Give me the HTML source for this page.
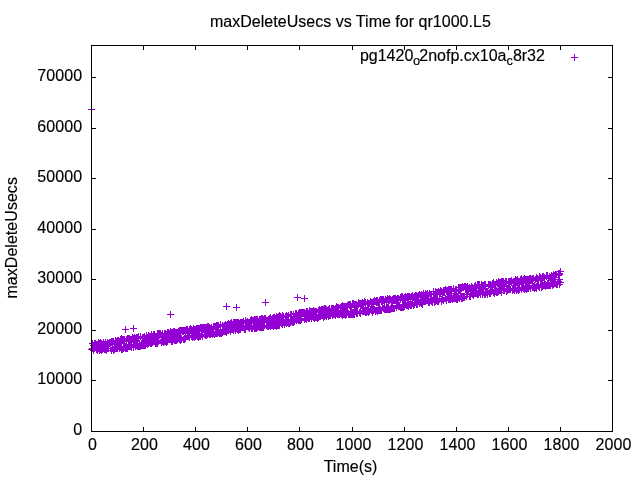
<!DOCTYPE html>
<html><head><meta charset="utf-8"><title>maxDeleteUsecs vs Time for qr1000.L5</title>
<style>
html,body{margin:0;padding:0;background:#fff;}
body{width:640px;height:480px;overflow:hidden;}
svg{display:block;will-change:transform;}
text{font-family:"Liberation Sans",sans-serif;font-size:16px;fill:#000;stroke:#000;stroke-width:0.15px;}
</style></head><body>
<svg width="640" height="480" viewBox="0 0 640 480">
<rect width="640" height="480" fill="#fff"/>
<text x="350.4" y="26.5" text-anchor="middle" letter-spacing="0.02">maxDeleteUsecs vs Time for qr1000.L5</text>
<text x="350.5" y="471.5" text-anchor="middle">Time(s)</text>
<text transform="translate(16.7,237.8) rotate(-90)" text-anchor="middle" letter-spacing="0.04">maxDeleteUsecs</text>
<text x="92.5" y="449.5" text-anchor="middle" letter-spacing="0.1">0</text><text x="144.5" y="449.5" text-anchor="middle" letter-spacing="0.1">200</text><text x="196.5" y="449.5" text-anchor="middle" letter-spacing="0.1">400</text><text x="248.5" y="449.5" text-anchor="middle" letter-spacing="0.1">600</text><text x="300.5" y="449.5" text-anchor="middle" letter-spacing="0.1">800</text><text x="353.5" y="449.5" text-anchor="middle" letter-spacing="0.1">1000</text><text x="405.5" y="449.5" text-anchor="middle" letter-spacing="0.1">1200</text><text x="457.5" y="449.5" text-anchor="middle" letter-spacing="0.1">1400</text><text x="509.5" y="449.5" text-anchor="middle" letter-spacing="0.1">1600</text><text x="561.5" y="449.5" text-anchor="middle" letter-spacing="0.1">1800</text><text x="613.5" y="449.5" text-anchor="middle" letter-spacing="0.1">2000</text>
<text x="82.3" y="435.2" text-anchor="end" letter-spacing="0.1">0</text><text x="82.3" y="384.2" text-anchor="end" letter-spacing="0.1">10000</text><text x="82.3" y="334.2" text-anchor="end" letter-spacing="0.1">20000</text><text x="82.3" y="283.2" text-anchor="end" letter-spacing="0.1">30000</text><text x="82.3" y="233.2" text-anchor="end" letter-spacing="0.1">40000</text><text x="82.3" y="182.2" text-anchor="end" letter-spacing="0.1">50000</text><text x="82.3" y="132.2" text-anchor="end" letter-spacing="0.1">60000</text><text x="82.3" y="81.2" text-anchor="end" letter-spacing="0.1">70000</text>
<text y="61"><tspan x="359.9">pg1420</tspan><tspan x="413.1" font-size="12.8px" dy="3.8">o</tspan><tspan x="419.3" dy="-3.8">2nofp.cx10a</tspan><tspan font-size="12.8px" dy="3.8">c</tspan><tspan dy="-3.8">8r32</tspan></text>
<path d="M571 57.5h7m-3.5-3.5v7" stroke="#9400d3" stroke-width="1" fill="none" shape-rendering="crispEdges"/>
<path d="M88 349.5h7m-3.5-3.5v7M89 343.5h7m-3.5-3.5v7M89 343.5h7m-3.5-3.5v7M89 348.5h7m-3.5-3.5v7M89 343.5h7m-3.5-3.5v7M90 345.5h7m-3.5-3.5v7M90 350.5h7m-3.5-3.5v7M90 349.5h7m-3.5-3.5v7M90 348.5h7m-3.5-3.5v7M91 343.5h7m-3.5-3.5v7M91 343.5h7m-3.5-3.5v7M91 348.5h7m-3.5-3.5v7M91 343.5h7m-3.5-3.5v7M92 343.5h7m-3.5-3.5v7M92 344.5h7m-3.5-3.5v7M92 344.5h7m-3.5-3.5v7M92 343.5h7m-3.5-3.5v7M93 349.5h7m-3.5-3.5v7M93 349.5h7m-3.5-3.5v7M93 347.5h7m-3.5-3.5v7M93 344.5h7m-3.5-3.5v7M94 344.5h7m-3.5-3.5v7M94 350.5h7m-3.5-3.5v7M94 349.5h7m-3.5-3.5v7M95 344.5h7m-3.5-3.5v7M95 343.5h7m-3.5-3.5v7M95 342.5h7m-3.5-3.5v7M95 348.5h7m-3.5-3.5v7M96 343.5h7m-3.5-3.5v7M96 350.5h7m-3.5-3.5v7M96 349.5h7m-3.5-3.5v7M96 344.5h7m-3.5-3.5v7M97 349.5h7m-3.5-3.5v7M97 342.5h7m-3.5-3.5v7M97 348.5h7m-3.5-3.5v7M97 343.5h7m-3.5-3.5v7M98 345.5h7m-3.5-3.5v7M98 344.5h7m-3.5-3.5v7M98 343.5h7m-3.5-3.5v7M98 350.5h7m-3.5-3.5v7M99 344.5h7m-3.5-3.5v7M99 348.5h7m-3.5-3.5v7M99 348.5h7m-3.5-3.5v7M99 349.5h7m-3.5-3.5v7M100 348.5h7m-3.5-3.5v7M100 348.5h7m-3.5-3.5v7M100 342.5h7m-3.5-3.5v7M101 349.5h7m-3.5-3.5v7M101 344.5h7m-3.5-3.5v7M101 348.5h7m-3.5-3.5v7M101 348.5h7m-3.5-3.5v7M102 348.5h7m-3.5-3.5v7M102 342.5h7m-3.5-3.5v7M102 349.5h7m-3.5-3.5v7M102 343.5h7m-3.5-3.5v7M103 348.5h7m-3.5-3.5v7M103 344.5h7m-3.5-3.5v7M103 350.5h7m-3.5-3.5v7M103 344.5h7m-3.5-3.5v7M104 342.5h7m-3.5-3.5v7M104 348.5h7m-3.5-3.5v7M104 344.5h7m-3.5-3.5v7M104 344.5h7m-3.5-3.5v7M105 344.5h7m-3.5-3.5v7M105 348.5h7m-3.5-3.5v7M105 348.5h7m-3.5-3.5v7M105 343.5h7m-3.5-3.5v7M106 343.5h7m-3.5-3.5v7M106 343.5h7m-3.5-3.5v7M106 342.5h7m-3.5-3.5v7M106 342.5h7m-3.5-3.5v7M107 342.5h7m-3.5-3.5v7M107 343.5h7m-3.5-3.5v7M107 348.5h7m-3.5-3.5v7M108 341.5h7m-3.5-3.5v7M108 342.5h7m-3.5-3.5v7M108 341.5h7m-3.5-3.5v7M108 350.5h7m-3.5-3.5v7M109 343.5h7m-3.5-3.5v7M109 343.5h7m-3.5-3.5v7M109 348.5h7m-3.5-3.5v7M109 341.5h7m-3.5-3.5v7M110 350.5h7m-3.5-3.5v7M110 349.5h7m-3.5-3.5v7M110 350.5h7m-3.5-3.5v7M110 341.5h7m-3.5-3.5v7M111 344.5h7m-3.5-3.5v7M111 349.5h7m-3.5-3.5v7M111 349.5h7m-3.5-3.5v7M111 348.5h7m-3.5-3.5v7M112 340.5h7m-3.5-3.5v7M112 348.5h7m-3.5-3.5v7M112 341.5h7m-3.5-3.5v7M112 341.5h7m-3.5-3.5v7M113 341.5h7m-3.5-3.5v7M113 348.5h7m-3.5-3.5v7M113 341.5h7m-3.5-3.5v7M114 340.5h7m-3.5-3.5v7M114 342.5h7m-3.5-3.5v7M114 348.5h7m-3.5-3.5v7M114 347.5h7m-3.5-3.5v7M115 342.5h7m-3.5-3.5v7M115 341.5h7m-3.5-3.5v7M115 342.5h7m-3.5-3.5v7M115 340.5h7m-3.5-3.5v7M116 341.5h7m-3.5-3.5v7M116 348.5h7m-3.5-3.5v7M116 347.5h7m-3.5-3.5v7M116 348.5h7m-3.5-3.5v7M117 347.5h7m-3.5-3.5v7M117 339.5h7m-3.5-3.5v7M117 342.5h7m-3.5-3.5v7M117 346.5h7m-3.5-3.5v7M118 347.5h7m-3.5-3.5v7M118 341.5h7m-3.5-3.5v7M118 349.5h7m-3.5-3.5v7M118 338.5h7m-3.5-3.5v7M119 339.5h7m-3.5-3.5v7M119 340.5h7m-3.5-3.5v7M119 349.5h7m-3.5-3.5v7M120 339.5h7m-3.5-3.5v7M120 341.5h7m-3.5-3.5v7M120 348.5h7m-3.5-3.5v7M120 346.5h7m-3.5-3.5v7M121 347.5h7m-3.5-3.5v7M121 339.5h7m-3.5-3.5v7M121 347.5h7m-3.5-3.5v7M121 341.5h7m-3.5-3.5v7M122 346.5h7m-3.5-3.5v7M122 347.5h7m-3.5-3.5v7M122 348.5h7m-3.5-3.5v7M122 348.5h7m-3.5-3.5v7M123 340.5h7m-3.5-3.5v7M123 348.5h7m-3.5-3.5v7M123 339.5h7m-3.5-3.5v7M123 346.5h7m-3.5-3.5v7M124 338.5h7m-3.5-3.5v7M124 348.5h7m-3.5-3.5v7M124 338.5h7m-3.5-3.5v7M124 347.5h7m-3.5-3.5v7M125 346.5h7m-3.5-3.5v7M125 339.5h7m-3.5-3.5v7M125 338.5h7m-3.5-3.5v7M126 346.5h7m-3.5-3.5v7M126 338.5h7m-3.5-3.5v7M126 346.5h7m-3.5-3.5v7M126 345.5h7m-3.5-3.5v7M127 340.5h7m-3.5-3.5v7M127 339.5h7m-3.5-3.5v7M127 339.5h7m-3.5-3.5v7M127 346.5h7m-3.5-3.5v7M128 347.5h7m-3.5-3.5v7M128 347.5h7m-3.5-3.5v7M128 339.5h7m-3.5-3.5v7M128 346.5h7m-3.5-3.5v7M129 339.5h7m-3.5-3.5v7M129 339.5h7m-3.5-3.5v7M129 337.5h7m-3.5-3.5v7M129 338.5h7m-3.5-3.5v7M130 347.5h7m-3.5-3.5v7M130 338.5h7m-3.5-3.5v7M130 344.5h7m-3.5-3.5v7M130 338.5h7m-3.5-3.5v7M131 337.5h7m-3.5-3.5v7M131 344.5h7m-3.5-3.5v7M131 337.5h7m-3.5-3.5v7M132 338.5h7m-3.5-3.5v7M132 346.5h7m-3.5-3.5v7M132 338.5h7m-3.5-3.5v7M132 344.5h7m-3.5-3.5v7M133 345.5h7m-3.5-3.5v7M133 337.5h7m-3.5-3.5v7M133 338.5h7m-3.5-3.5v7M133 345.5h7m-3.5-3.5v7M134 344.5h7m-3.5-3.5v7M134 346.5h7m-3.5-3.5v7M134 345.5h7m-3.5-3.5v7M134 337.5h7m-3.5-3.5v7M135 346.5h7m-3.5-3.5v7M135 336.5h7m-3.5-3.5v7M135 336.5h7m-3.5-3.5v7M135 338.5h7m-3.5-3.5v7M136 346.5h7m-3.5-3.5v7M136 343.5h7m-3.5-3.5v7M136 344.5h7m-3.5-3.5v7M136 344.5h7m-3.5-3.5v7M137 345.5h7m-3.5-3.5v7M137 346.5h7m-3.5-3.5v7M137 336.5h7m-3.5-3.5v7M137 346.5h7m-3.5-3.5v7M138 344.5h7m-3.5-3.5v7M138 343.5h7m-3.5-3.5v7M138 345.5h7m-3.5-3.5v7M139 344.5h7m-3.5-3.5v7M139 345.5h7m-3.5-3.5v7M139 337.5h7m-3.5-3.5v7M139 337.5h7m-3.5-3.5v7M140 345.5h7m-3.5-3.5v7M140 337.5h7m-3.5-3.5v7M140 345.5h7m-3.5-3.5v7M140 343.5h7m-3.5-3.5v7M141 338.5h7m-3.5-3.5v7M141 336.5h7m-3.5-3.5v7M141 343.5h7m-3.5-3.5v7M141 345.5h7m-3.5-3.5v7M142 345.5h7m-3.5-3.5v7M142 342.5h7m-3.5-3.5v7M142 343.5h7m-3.5-3.5v7M142 343.5h7m-3.5-3.5v7M143 337.5h7m-3.5-3.5v7M143 343.5h7m-3.5-3.5v7M143 342.5h7m-3.5-3.5v7M143 335.5h7m-3.5-3.5v7M144 337.5h7m-3.5-3.5v7M144 342.5h7m-3.5-3.5v7M144 344.5h7m-3.5-3.5v7M145 335.5h7m-3.5-3.5v7M145 342.5h7m-3.5-3.5v7M145 343.5h7m-3.5-3.5v7M145 338.5h7m-3.5-3.5v7M146 337.5h7m-3.5-3.5v7M146 342.5h7m-3.5-3.5v7M146 336.5h7m-3.5-3.5v7M146 336.5h7m-3.5-3.5v7M147 343.5h7m-3.5-3.5v7M147 342.5h7m-3.5-3.5v7M147 336.5h7m-3.5-3.5v7M147 342.5h7m-3.5-3.5v7M148 334.5h7m-3.5-3.5v7M148 336.5h7m-3.5-3.5v7M148 343.5h7m-3.5-3.5v7M148 337.5h7m-3.5-3.5v7M149 336.5h7m-3.5-3.5v7M149 342.5h7m-3.5-3.5v7M149 336.5h7m-3.5-3.5v7M149 342.5h7m-3.5-3.5v7M150 341.5h7m-3.5-3.5v7M150 334.5h7m-3.5-3.5v7M150 337.5h7m-3.5-3.5v7M151 334.5h7m-3.5-3.5v7M151 335.5h7m-3.5-3.5v7M151 334.5h7m-3.5-3.5v7M151 341.5h7m-3.5-3.5v7M152 343.5h7m-3.5-3.5v7M152 341.5h7m-3.5-3.5v7M152 336.5h7m-3.5-3.5v7M152 341.5h7m-3.5-3.5v7M153 340.5h7m-3.5-3.5v7M153 343.5h7m-3.5-3.5v7M153 336.5h7m-3.5-3.5v7M153 341.5h7m-3.5-3.5v7M154 333.5h7m-3.5-3.5v7M154 341.5h7m-3.5-3.5v7M154 340.5h7m-3.5-3.5v7M154 343.5h7m-3.5-3.5v7M155 334.5h7m-3.5-3.5v7M155 335.5h7m-3.5-3.5v7M155 341.5h7m-3.5-3.5v7M155 333.5h7m-3.5-3.5v7M156 333.5h7m-3.5-3.5v7M156 335.5h7m-3.5-3.5v7M156 333.5h7m-3.5-3.5v7M157 333.5h7m-3.5-3.5v7M157 334.5h7m-3.5-3.5v7M157 334.5h7m-3.5-3.5v7M157 334.5h7m-3.5-3.5v7M158 342.5h7m-3.5-3.5v7M158 335.5h7m-3.5-3.5v7M158 335.5h7m-3.5-3.5v7M158 335.5h7m-3.5-3.5v7M159 341.5h7m-3.5-3.5v7M159 333.5h7m-3.5-3.5v7M159 335.5h7m-3.5-3.5v7M159 333.5h7m-3.5-3.5v7M160 342.5h7m-3.5-3.5v7M160 341.5h7m-3.5-3.5v7M160 339.5h7m-3.5-3.5v7M160 342.5h7m-3.5-3.5v7M161 333.5h7m-3.5-3.5v7M161 341.5h7m-3.5-3.5v7M161 340.5h7m-3.5-3.5v7M161 334.5h7m-3.5-3.5v7M162 334.5h7m-3.5-3.5v7M162 333.5h7m-3.5-3.5v7M162 341.5h7m-3.5-3.5v7M163 340.5h7m-3.5-3.5v7M163 334.5h7m-3.5-3.5v7M163 342.5h7m-3.5-3.5v7M163 341.5h7m-3.5-3.5v7M164 332.5h7m-3.5-3.5v7M164 334.5h7m-3.5-3.5v7M164 339.5h7m-3.5-3.5v7M164 341.5h7m-3.5-3.5v7M165 333.5h7m-3.5-3.5v7M165 339.5h7m-3.5-3.5v7M165 332.5h7m-3.5-3.5v7M165 332.5h7m-3.5-3.5v7M166 339.5h7m-3.5-3.5v7M166 333.5h7m-3.5-3.5v7M166 339.5h7m-3.5-3.5v7M166 339.5h7m-3.5-3.5v7M167 333.5h7m-3.5-3.5v7M167 339.5h7m-3.5-3.5v7M167 331.5h7m-3.5-3.5v7M167 332.5h7m-3.5-3.5v7M168 341.5h7m-3.5-3.5v7M168 332.5h7m-3.5-3.5v7M168 334.5h7m-3.5-3.5v7M168 340.5h7m-3.5-3.5v7M169 341.5h7m-3.5-3.5v7M169 332.5h7m-3.5-3.5v7M169 338.5h7m-3.5-3.5v7M170 336.5h7m-3.5-3.5v7M170 331.5h7m-3.5-3.5v7M170 339.5h7m-3.5-3.5v7M170 339.5h7m-3.5-3.5v7M171 339.5h7m-3.5-3.5v7M171 331.5h7m-3.5-3.5v7M171 333.5h7m-3.5-3.5v7M171 340.5h7m-3.5-3.5v7M172 332.5h7m-3.5-3.5v7M172 340.5h7m-3.5-3.5v7M172 340.5h7m-3.5-3.5v7M172 338.5h7m-3.5-3.5v7M173 332.5h7m-3.5-3.5v7M173 339.5h7m-3.5-3.5v7M173 339.5h7m-3.5-3.5v7M173 340.5h7m-3.5-3.5v7M174 332.5h7m-3.5-3.5v7M174 338.5h7m-3.5-3.5v7M174 339.5h7m-3.5-3.5v7M174 337.5h7m-3.5-3.5v7M175 338.5h7m-3.5-3.5v7M175 331.5h7m-3.5-3.5v7M175 337.5h7m-3.5-3.5v7M176 337.5h7m-3.5-3.5v7M176 330.5h7m-3.5-3.5v7M176 339.5h7m-3.5-3.5v7M176 330.5h7m-3.5-3.5v7M177 340.5h7m-3.5-3.5v7M177 333.5h7m-3.5-3.5v7M177 330.5h7m-3.5-3.5v7M177 339.5h7m-3.5-3.5v7M178 339.5h7m-3.5-3.5v7M178 338.5h7m-3.5-3.5v7M178 339.5h7m-3.5-3.5v7M178 330.5h7m-3.5-3.5v7M179 330.5h7m-3.5-3.5v7M179 330.5h7m-3.5-3.5v7M179 331.5h7m-3.5-3.5v7M179 331.5h7m-3.5-3.5v7M180 339.5h7m-3.5-3.5v7M180 331.5h7m-3.5-3.5v7M180 331.5h7m-3.5-3.5v7M180 330.5h7m-3.5-3.5v7M181 330.5h7m-3.5-3.5v7M181 339.5h7m-3.5-3.5v7M181 338.5h7m-3.5-3.5v7M182 338.5h7m-3.5-3.5v7M182 337.5h7m-3.5-3.5v7M182 332.5h7m-3.5-3.5v7M182 330.5h7m-3.5-3.5v7M183 329.5h7m-3.5-3.5v7M183 330.5h7m-3.5-3.5v7M183 329.5h7m-3.5-3.5v7M183 329.5h7m-3.5-3.5v7M184 332.5h7m-3.5-3.5v7M184 336.5h7m-3.5-3.5v7M184 329.5h7m-3.5-3.5v7M184 336.5h7m-3.5-3.5v7M185 336.5h7m-3.5-3.5v7M185 331.5h7m-3.5-3.5v7M185 336.5h7m-3.5-3.5v7M185 335.5h7m-3.5-3.5v7M186 337.5h7m-3.5-3.5v7M186 331.5h7m-3.5-3.5v7M186 329.5h7m-3.5-3.5v7M186 336.5h7m-3.5-3.5v7M187 328.5h7m-3.5-3.5v7M187 329.5h7m-3.5-3.5v7M187 330.5h7m-3.5-3.5v7M188 329.5h7m-3.5-3.5v7M188 335.5h7m-3.5-3.5v7M188 330.5h7m-3.5-3.5v7M188 336.5h7m-3.5-3.5v7M189 337.5h7m-3.5-3.5v7M189 335.5h7m-3.5-3.5v7M189 336.5h7m-3.5-3.5v7M189 330.5h7m-3.5-3.5v7M190 336.5h7m-3.5-3.5v7M190 329.5h7m-3.5-3.5v7M190 331.5h7m-3.5-3.5v7M190 328.5h7m-3.5-3.5v7M191 337.5h7m-3.5-3.5v7M191 329.5h7m-3.5-3.5v7M191 335.5h7m-3.5-3.5v7M191 330.5h7m-3.5-3.5v7M192 329.5h7m-3.5-3.5v7M192 330.5h7m-3.5-3.5v7M192 329.5h7m-3.5-3.5v7M192 336.5h7m-3.5-3.5v7M193 328.5h7m-3.5-3.5v7M193 329.5h7m-3.5-3.5v7M193 335.5h7m-3.5-3.5v7M194 328.5h7m-3.5-3.5v7M194 329.5h7m-3.5-3.5v7M194 336.5h7m-3.5-3.5v7M194 330.5h7m-3.5-3.5v7M195 337.5h7m-3.5-3.5v7M195 328.5h7m-3.5-3.5v7M195 334.5h7m-3.5-3.5v7M195 329.5h7m-3.5-3.5v7M196 328.5h7m-3.5-3.5v7M196 336.5h7m-3.5-3.5v7M196 335.5h7m-3.5-3.5v7M196 330.5h7m-3.5-3.5v7M197 328.5h7m-3.5-3.5v7M197 328.5h7m-3.5-3.5v7M197 327.5h7m-3.5-3.5v7M197 336.5h7m-3.5-3.5v7M198 328.5h7m-3.5-3.5v7M198 327.5h7m-3.5-3.5v7M198 334.5h7m-3.5-3.5v7M198 330.5h7m-3.5-3.5v7M199 331.5h7m-3.5-3.5v7M199 327.5h7m-3.5-3.5v7M199 336.5h7m-3.5-3.5v7M199 327.5h7m-3.5-3.5v7M200 328.5h7m-3.5-3.5v7M200 327.5h7m-3.5-3.5v7M200 329.5h7m-3.5-3.5v7M201 334.5h7m-3.5-3.5v7M201 327.5h7m-3.5-3.5v7M201 334.5h7m-3.5-3.5v7M201 328.5h7m-3.5-3.5v7M202 327.5h7m-3.5-3.5v7M202 328.5h7m-3.5-3.5v7M202 327.5h7m-3.5-3.5v7M202 335.5h7m-3.5-3.5v7M203 327.5h7m-3.5-3.5v7M203 328.5h7m-3.5-3.5v7M203 335.5h7m-3.5-3.5v7M203 334.5h7m-3.5-3.5v7M204 326.5h7m-3.5-3.5v7M204 334.5h7m-3.5-3.5v7M204 334.5h7m-3.5-3.5v7M204 328.5h7m-3.5-3.5v7M205 326.5h7m-3.5-3.5v7M205 328.5h7m-3.5-3.5v7M205 333.5h7m-3.5-3.5v7M205 333.5h7m-3.5-3.5v7M206 334.5h7m-3.5-3.5v7M206 327.5h7m-3.5-3.5v7M206 333.5h7m-3.5-3.5v7M207 334.5h7m-3.5-3.5v7M207 334.5h7m-3.5-3.5v7M207 333.5h7m-3.5-3.5v7M207 328.5h7m-3.5-3.5v7M208 327.5h7m-3.5-3.5v7M208 333.5h7m-3.5-3.5v7M208 333.5h7m-3.5-3.5v7M208 327.5h7m-3.5-3.5v7M209 333.5h7m-3.5-3.5v7M209 334.5h7m-3.5-3.5v7M209 334.5h7m-3.5-3.5v7M209 333.5h7m-3.5-3.5v7M210 333.5h7m-3.5-3.5v7M210 328.5h7m-3.5-3.5v7M210 333.5h7m-3.5-3.5v7M210 326.5h7m-3.5-3.5v7M211 326.5h7m-3.5-3.5v7M211 326.5h7m-3.5-3.5v7M211 334.5h7m-3.5-3.5v7M211 326.5h7m-3.5-3.5v7M212 333.5h7m-3.5-3.5v7M212 329.5h7m-3.5-3.5v7M212 326.5h7m-3.5-3.5v7M213 333.5h7m-3.5-3.5v7M213 325.5h7m-3.5-3.5v7M213 332.5h7m-3.5-3.5v7M213 327.5h7m-3.5-3.5v7M214 333.5h7m-3.5-3.5v7M214 325.5h7m-3.5-3.5v7M214 327.5h7m-3.5-3.5v7M214 332.5h7m-3.5-3.5v7M215 325.5h7m-3.5-3.5v7M215 332.5h7m-3.5-3.5v7M215 331.5h7m-3.5-3.5v7M215 331.5h7m-3.5-3.5v7M216 332.5h7m-3.5-3.5v7M216 332.5h7m-3.5-3.5v7M216 333.5h7m-3.5-3.5v7M216 333.5h7m-3.5-3.5v7M217 324.5h7m-3.5-3.5v7M217 324.5h7m-3.5-3.5v7M217 333.5h7m-3.5-3.5v7M217 331.5h7m-3.5-3.5v7M218 332.5h7m-3.5-3.5v7M218 333.5h7m-3.5-3.5v7M218 333.5h7m-3.5-3.5v7M219 326.5h7m-3.5-3.5v7M219 326.5h7m-3.5-3.5v7M219 325.5h7m-3.5-3.5v7M219 332.5h7m-3.5-3.5v7M220 331.5h7m-3.5-3.5v7M220 330.5h7m-3.5-3.5v7M220 331.5h7m-3.5-3.5v7M220 326.5h7m-3.5-3.5v7M221 331.5h7m-3.5-3.5v7M221 325.5h7m-3.5-3.5v7M221 331.5h7m-3.5-3.5v7M221 331.5h7m-3.5-3.5v7M222 331.5h7m-3.5-3.5v7M222 324.5h7m-3.5-3.5v7M222 324.5h7m-3.5-3.5v7M222 331.5h7m-3.5-3.5v7M223 332.5h7m-3.5-3.5v7M223 331.5h7m-3.5-3.5v7M223 330.5h7m-3.5-3.5v7M223 325.5h7m-3.5-3.5v7M224 324.5h7m-3.5-3.5v7M224 330.5h7m-3.5-3.5v7M224 325.5h7m-3.5-3.5v7M225 330.5h7m-3.5-3.5v7M225 325.5h7m-3.5-3.5v7M225 329.5h7m-3.5-3.5v7M225 323.5h7m-3.5-3.5v7M226 329.5h7m-3.5-3.5v7M226 324.5h7m-3.5-3.5v7M226 324.5h7m-3.5-3.5v7M226 324.5h7m-3.5-3.5v7M227 323.5h7m-3.5-3.5v7M227 331.5h7m-3.5-3.5v7M227 329.5h7m-3.5-3.5v7M227 324.5h7m-3.5-3.5v7M228 324.5h7m-3.5-3.5v7M228 329.5h7m-3.5-3.5v7M228 329.5h7m-3.5-3.5v7M228 322.5h7m-3.5-3.5v7M229 329.5h7m-3.5-3.5v7M229 324.5h7m-3.5-3.5v7M229 329.5h7m-3.5-3.5v7M229 325.5h7m-3.5-3.5v7M230 328.5h7m-3.5-3.5v7M230 328.5h7m-3.5-3.5v7M230 322.5h7m-3.5-3.5v7M230 330.5h7m-3.5-3.5v7M231 322.5h7m-3.5-3.5v7M231 328.5h7m-3.5-3.5v7M231 322.5h7m-3.5-3.5v7M232 324.5h7m-3.5-3.5v7M232 322.5h7m-3.5-3.5v7M232 323.5h7m-3.5-3.5v7M232 330.5h7m-3.5-3.5v7M233 328.5h7m-3.5-3.5v7M233 322.5h7m-3.5-3.5v7M233 322.5h7m-3.5-3.5v7M233 328.5h7m-3.5-3.5v7M234 322.5h7m-3.5-3.5v7M234 329.5h7m-3.5-3.5v7M234 323.5h7m-3.5-3.5v7M234 329.5h7m-3.5-3.5v7M235 323.5h7m-3.5-3.5v7M235 330.5h7m-3.5-3.5v7M235 322.5h7m-3.5-3.5v7M235 323.5h7m-3.5-3.5v7M236 328.5h7m-3.5-3.5v7M236 329.5h7m-3.5-3.5v7M236 323.5h7m-3.5-3.5v7M236 327.5h7m-3.5-3.5v7M237 323.5h7m-3.5-3.5v7M237 329.5h7m-3.5-3.5v7M237 322.5h7m-3.5-3.5v7M238 323.5h7m-3.5-3.5v7M238 322.5h7m-3.5-3.5v7M238 323.5h7m-3.5-3.5v7M238 323.5h7m-3.5-3.5v7M239 322.5h7m-3.5-3.5v7M239 327.5h7m-3.5-3.5v7M239 322.5h7m-3.5-3.5v7M239 322.5h7m-3.5-3.5v7M240 323.5h7m-3.5-3.5v7M240 322.5h7m-3.5-3.5v7M240 327.5h7m-3.5-3.5v7M240 321.5h7m-3.5-3.5v7M241 328.5h7m-3.5-3.5v7M241 329.5h7m-3.5-3.5v7M241 328.5h7m-3.5-3.5v7M241 328.5h7m-3.5-3.5v7M242 320.5h7m-3.5-3.5v7M242 329.5h7m-3.5-3.5v7M242 328.5h7m-3.5-3.5v7M242 321.5h7m-3.5-3.5v7M243 322.5h7m-3.5-3.5v7M243 326.5h7m-3.5-3.5v7M243 326.5h7m-3.5-3.5v7M244 322.5h7m-3.5-3.5v7M244 322.5h7m-3.5-3.5v7M244 321.5h7m-3.5-3.5v7M244 321.5h7m-3.5-3.5v7M245 322.5h7m-3.5-3.5v7M245 327.5h7m-3.5-3.5v7M245 322.5h7m-3.5-3.5v7M245 327.5h7m-3.5-3.5v7M246 322.5h7m-3.5-3.5v7M246 328.5h7m-3.5-3.5v7M246 322.5h7m-3.5-3.5v7M246 328.5h7m-3.5-3.5v7M247 320.5h7m-3.5-3.5v7M247 320.5h7m-3.5-3.5v7M247 326.5h7m-3.5-3.5v7M247 326.5h7m-3.5-3.5v7M248 319.5h7m-3.5-3.5v7M248 326.5h7m-3.5-3.5v7M248 328.5h7m-3.5-3.5v7M248 320.5h7m-3.5-3.5v7M249 328.5h7m-3.5-3.5v7M249 320.5h7m-3.5-3.5v7M249 320.5h7m-3.5-3.5v7M250 326.5h7m-3.5-3.5v7M250 321.5h7m-3.5-3.5v7M250 320.5h7m-3.5-3.5v7M250 326.5h7m-3.5-3.5v7M251 326.5h7m-3.5-3.5v7M251 328.5h7m-3.5-3.5v7M251 319.5h7m-3.5-3.5v7M251 320.5h7m-3.5-3.5v7M252 326.5h7m-3.5-3.5v7M252 328.5h7m-3.5-3.5v7M252 319.5h7m-3.5-3.5v7M252 319.5h7m-3.5-3.5v7M253 328.5h7m-3.5-3.5v7M253 326.5h7m-3.5-3.5v7M253 325.5h7m-3.5-3.5v7M253 319.5h7m-3.5-3.5v7M254 319.5h7m-3.5-3.5v7M254 326.5h7m-3.5-3.5v7M254 319.5h7m-3.5-3.5v7M254 327.5h7m-3.5-3.5v7M255 326.5h7m-3.5-3.5v7M255 321.5h7m-3.5-3.5v7M255 325.5h7m-3.5-3.5v7M256 327.5h7m-3.5-3.5v7M256 319.5h7m-3.5-3.5v7M256 320.5h7m-3.5-3.5v7M256 327.5h7m-3.5-3.5v7M257 319.5h7m-3.5-3.5v7M257 319.5h7m-3.5-3.5v7M257 327.5h7m-3.5-3.5v7M257 323.5h7m-3.5-3.5v7M258 318.5h7m-3.5-3.5v7M258 320.5h7m-3.5-3.5v7M258 319.5h7m-3.5-3.5v7M258 327.5h7m-3.5-3.5v7M259 326.5h7m-3.5-3.5v7M259 318.5h7m-3.5-3.5v7M259 325.5h7m-3.5-3.5v7M259 327.5h7m-3.5-3.5v7M260 319.5h7m-3.5-3.5v7M260 325.5h7m-3.5-3.5v7M260 319.5h7m-3.5-3.5v7M260 327.5h7m-3.5-3.5v7M261 325.5h7m-3.5-3.5v7M261 318.5h7m-3.5-3.5v7M261 325.5h7m-3.5-3.5v7M261 318.5h7m-3.5-3.5v7M262 318.5h7m-3.5-3.5v7M262 319.5h7m-3.5-3.5v7M262 319.5h7m-3.5-3.5v7M263 320.5h7m-3.5-3.5v7M263 325.5h7m-3.5-3.5v7M263 320.5h7m-3.5-3.5v7M263 320.5h7m-3.5-3.5v7M264 320.5h7m-3.5-3.5v7M264 326.5h7m-3.5-3.5v7M264 326.5h7m-3.5-3.5v7M264 326.5h7m-3.5-3.5v7M265 319.5h7m-3.5-3.5v7M265 320.5h7m-3.5-3.5v7M265 320.5h7m-3.5-3.5v7M265 326.5h7m-3.5-3.5v7M266 318.5h7m-3.5-3.5v7M266 319.5h7m-3.5-3.5v7M266 318.5h7m-3.5-3.5v7M266 325.5h7m-3.5-3.5v7M267 326.5h7m-3.5-3.5v7M267 318.5h7m-3.5-3.5v7M267 317.5h7m-3.5-3.5v7M267 325.5h7m-3.5-3.5v7M268 325.5h7m-3.5-3.5v7M268 319.5h7m-3.5-3.5v7M268 319.5h7m-3.5-3.5v7M269 318.5h7m-3.5-3.5v7M269 318.5h7m-3.5-3.5v7M269 324.5h7m-3.5-3.5v7M269 325.5h7m-3.5-3.5v7M270 320.5h7m-3.5-3.5v7M270 325.5h7m-3.5-3.5v7M270 326.5h7m-3.5-3.5v7M270 317.5h7m-3.5-3.5v7M271 318.5h7m-3.5-3.5v7M271 325.5h7m-3.5-3.5v7M271 324.5h7m-3.5-3.5v7M271 317.5h7m-3.5-3.5v7M272 325.5h7m-3.5-3.5v7M272 318.5h7m-3.5-3.5v7M272 318.5h7m-3.5-3.5v7M272 325.5h7m-3.5-3.5v7M273 316.5h7m-3.5-3.5v7M273 325.5h7m-3.5-3.5v7M273 326.5h7m-3.5-3.5v7M273 325.5h7m-3.5-3.5v7M274 317.5h7m-3.5-3.5v7M274 325.5h7m-3.5-3.5v7M274 324.5h7m-3.5-3.5v7M275 325.5h7m-3.5-3.5v7M275 324.5h7m-3.5-3.5v7M275 323.5h7m-3.5-3.5v7M275 316.5h7m-3.5-3.5v7M276 325.5h7m-3.5-3.5v7M276 316.5h7m-3.5-3.5v7M276 315.5h7m-3.5-3.5v7M276 321.5h7m-3.5-3.5v7M277 317.5h7m-3.5-3.5v7M277 317.5h7m-3.5-3.5v7M277 316.5h7m-3.5-3.5v7M277 316.5h7m-3.5-3.5v7M278 317.5h7m-3.5-3.5v7M278 323.5h7m-3.5-3.5v7M278 317.5h7m-3.5-3.5v7M278 323.5h7m-3.5-3.5v7M279 316.5h7m-3.5-3.5v7M279 315.5h7m-3.5-3.5v7M279 317.5h7m-3.5-3.5v7M279 324.5h7m-3.5-3.5v7M280 317.5h7m-3.5-3.5v7M280 322.5h7m-3.5-3.5v7M280 316.5h7m-3.5-3.5v7M281 323.5h7m-3.5-3.5v7M281 324.5h7m-3.5-3.5v7M281 322.5h7m-3.5-3.5v7M281 323.5h7m-3.5-3.5v7M282 317.5h7m-3.5-3.5v7M282 316.5h7m-3.5-3.5v7M282 322.5h7m-3.5-3.5v7M282 316.5h7m-3.5-3.5v7M283 315.5h7m-3.5-3.5v7M283 323.5h7m-3.5-3.5v7M283 321.5h7m-3.5-3.5v7M283 316.5h7m-3.5-3.5v7M284 321.5h7m-3.5-3.5v7M284 322.5h7m-3.5-3.5v7M284 321.5h7m-3.5-3.5v7M284 316.5h7m-3.5-3.5v7M285 321.5h7m-3.5-3.5v7M285 315.5h7m-3.5-3.5v7M285 322.5h7m-3.5-3.5v7M285 323.5h7m-3.5-3.5v7M286 323.5h7m-3.5-3.5v7M286 322.5h7m-3.5-3.5v7M286 323.5h7m-3.5-3.5v7M287 322.5h7m-3.5-3.5v7M287 322.5h7m-3.5-3.5v7M287 314.5h7m-3.5-3.5v7M287 320.5h7m-3.5-3.5v7M288 321.5h7m-3.5-3.5v7M288 314.5h7m-3.5-3.5v7M288 320.5h7m-3.5-3.5v7M288 320.5h7m-3.5-3.5v7M289 320.5h7m-3.5-3.5v7M289 319.5h7m-3.5-3.5v7M289 321.5h7m-3.5-3.5v7M289 322.5h7m-3.5-3.5v7M290 321.5h7m-3.5-3.5v7M290 320.5h7m-3.5-3.5v7M290 322.5h7m-3.5-3.5v7M290 314.5h7m-3.5-3.5v7M291 319.5h7m-3.5-3.5v7M291 321.5h7m-3.5-3.5v7M291 320.5h7m-3.5-3.5v7M291 321.5h7m-3.5-3.5v7M292 314.5h7m-3.5-3.5v7M292 314.5h7m-3.5-3.5v7M292 313.5h7m-3.5-3.5v7M292 319.5h7m-3.5-3.5v7M293 320.5h7m-3.5-3.5v7M293 313.5h7m-3.5-3.5v7M293 319.5h7m-3.5-3.5v7M294 319.5h7m-3.5-3.5v7M294 319.5h7m-3.5-3.5v7M294 315.5h7m-3.5-3.5v7M294 319.5h7m-3.5-3.5v7M295 318.5h7m-3.5-3.5v7M295 319.5h7m-3.5-3.5v7M295 313.5h7m-3.5-3.5v7M295 320.5h7m-3.5-3.5v7M296 320.5h7m-3.5-3.5v7M296 312.5h7m-3.5-3.5v7M296 313.5h7m-3.5-3.5v7M296 319.5h7m-3.5-3.5v7M297 315.5h7m-3.5-3.5v7M297 320.5h7m-3.5-3.5v7M297 312.5h7m-3.5-3.5v7M297 313.5h7m-3.5-3.5v7M298 319.5h7m-3.5-3.5v7M298 318.5h7m-3.5-3.5v7M298 312.5h7m-3.5-3.5v7M298 319.5h7m-3.5-3.5v7M299 313.5h7m-3.5-3.5v7M299 313.5h7m-3.5-3.5v7M299 312.5h7m-3.5-3.5v7M300 313.5h7m-3.5-3.5v7M300 313.5h7m-3.5-3.5v7M300 313.5h7m-3.5-3.5v7M300 312.5h7m-3.5-3.5v7M301 312.5h7m-3.5-3.5v7M301 319.5h7m-3.5-3.5v7M301 318.5h7m-3.5-3.5v7M301 313.5h7m-3.5-3.5v7M302 318.5h7m-3.5-3.5v7M302 318.5h7m-3.5-3.5v7M302 313.5h7m-3.5-3.5v7M302 318.5h7m-3.5-3.5v7M303 312.5h7m-3.5-3.5v7M303 311.5h7m-3.5-3.5v7M303 319.5h7m-3.5-3.5v7M303 311.5h7m-3.5-3.5v7M304 312.5h7m-3.5-3.5v7M304 311.5h7m-3.5-3.5v7M304 317.5h7m-3.5-3.5v7M304 317.5h7m-3.5-3.5v7M305 317.5h7m-3.5-3.5v7M305 318.5h7m-3.5-3.5v7M305 317.5h7m-3.5-3.5v7M306 311.5h7m-3.5-3.5v7M306 312.5h7m-3.5-3.5v7M306 318.5h7m-3.5-3.5v7M306 310.5h7m-3.5-3.5v7M307 312.5h7m-3.5-3.5v7M307 311.5h7m-3.5-3.5v7M307 316.5h7m-3.5-3.5v7M307 311.5h7m-3.5-3.5v7M308 312.5h7m-3.5-3.5v7M308 318.5h7m-3.5-3.5v7M308 311.5h7m-3.5-3.5v7M308 311.5h7m-3.5-3.5v7M309 311.5h7m-3.5-3.5v7M309 316.5h7m-3.5-3.5v7M309 312.5h7m-3.5-3.5v7M309 312.5h7m-3.5-3.5v7M310 316.5h7m-3.5-3.5v7M310 310.5h7m-3.5-3.5v7M310 317.5h7m-3.5-3.5v7M310 316.5h7m-3.5-3.5v7M311 318.5h7m-3.5-3.5v7M311 317.5h7m-3.5-3.5v7M311 311.5h7m-3.5-3.5v7M312 311.5h7m-3.5-3.5v7M312 317.5h7m-3.5-3.5v7M312 312.5h7m-3.5-3.5v7M312 317.5h7m-3.5-3.5v7M313 316.5h7m-3.5-3.5v7M313 317.5h7m-3.5-3.5v7M313 312.5h7m-3.5-3.5v7M313 311.5h7m-3.5-3.5v7M314 317.5h7m-3.5-3.5v7M314 317.5h7m-3.5-3.5v7M314 317.5h7m-3.5-3.5v7M314 318.5h7m-3.5-3.5v7M315 311.5h7m-3.5-3.5v7M315 315.5h7m-3.5-3.5v7M315 317.5h7m-3.5-3.5v7M315 310.5h7m-3.5-3.5v7M316 316.5h7m-3.5-3.5v7M316 309.5h7m-3.5-3.5v7M316 315.5h7m-3.5-3.5v7M316 316.5h7m-3.5-3.5v7M317 316.5h7m-3.5-3.5v7M317 310.5h7m-3.5-3.5v7M317 315.5h7m-3.5-3.5v7M318 310.5h7m-3.5-3.5v7M318 309.5h7m-3.5-3.5v7M318 309.5h7m-3.5-3.5v7M318 315.5h7m-3.5-3.5v7M319 310.5h7m-3.5-3.5v7M319 309.5h7m-3.5-3.5v7M319 315.5h7m-3.5-3.5v7M319 315.5h7m-3.5-3.5v7M320 317.5h7m-3.5-3.5v7M320 310.5h7m-3.5-3.5v7M320 309.5h7m-3.5-3.5v7M320 316.5h7m-3.5-3.5v7M321 308.5h7m-3.5-3.5v7M321 311.5h7m-3.5-3.5v7M321 316.5h7m-3.5-3.5v7M321 310.5h7m-3.5-3.5v7M322 310.5h7m-3.5-3.5v7M322 315.5h7m-3.5-3.5v7M322 308.5h7m-3.5-3.5v7M322 309.5h7m-3.5-3.5v7M323 316.5h7m-3.5-3.5v7M323 309.5h7m-3.5-3.5v7M323 309.5h7m-3.5-3.5v7M323 310.5h7m-3.5-3.5v7M324 311.5h7m-3.5-3.5v7M324 310.5h7m-3.5-3.5v7M324 314.5h7m-3.5-3.5v7M325 309.5h7m-3.5-3.5v7M325 316.5h7m-3.5-3.5v7M325 309.5h7m-3.5-3.5v7M325 314.5h7m-3.5-3.5v7M326 308.5h7m-3.5-3.5v7M326 315.5h7m-3.5-3.5v7M326 315.5h7m-3.5-3.5v7M326 312.5h7m-3.5-3.5v7M327 315.5h7m-3.5-3.5v7M327 314.5h7m-3.5-3.5v7M327 314.5h7m-3.5-3.5v7M327 315.5h7m-3.5-3.5v7M328 310.5h7m-3.5-3.5v7M328 312.5h7m-3.5-3.5v7M328 309.5h7m-3.5-3.5v7M328 308.5h7m-3.5-3.5v7M329 309.5h7m-3.5-3.5v7M329 308.5h7m-3.5-3.5v7M329 308.5h7m-3.5-3.5v7M329 315.5h7m-3.5-3.5v7M330 314.5h7m-3.5-3.5v7M330 308.5h7m-3.5-3.5v7M330 314.5h7m-3.5-3.5v7M331 313.5h7m-3.5-3.5v7M331 314.5h7m-3.5-3.5v7M331 314.5h7m-3.5-3.5v7M331 314.5h7m-3.5-3.5v7M332 309.5h7m-3.5-3.5v7M332 308.5h7m-3.5-3.5v7M332 315.5h7m-3.5-3.5v7M332 315.5h7m-3.5-3.5v7M333 306.5h7m-3.5-3.5v7M333 307.5h7m-3.5-3.5v7M333 313.5h7m-3.5-3.5v7M333 307.5h7m-3.5-3.5v7M334 314.5h7m-3.5-3.5v7M334 307.5h7m-3.5-3.5v7M334 308.5h7m-3.5-3.5v7M334 308.5h7m-3.5-3.5v7M335 313.5h7m-3.5-3.5v7M335 308.5h7m-3.5-3.5v7M335 314.5h7m-3.5-3.5v7M335 307.5h7m-3.5-3.5v7M336 313.5h7m-3.5-3.5v7M336 314.5h7m-3.5-3.5v7M336 314.5h7m-3.5-3.5v7M337 313.5h7m-3.5-3.5v7M337 308.5h7m-3.5-3.5v7M337 307.5h7m-3.5-3.5v7M337 313.5h7m-3.5-3.5v7M338 306.5h7m-3.5-3.5v7M338 314.5h7m-3.5-3.5v7M338 307.5h7m-3.5-3.5v7M338 314.5h7m-3.5-3.5v7M339 307.5h7m-3.5-3.5v7M339 315.5h7m-3.5-3.5v7M339 313.5h7m-3.5-3.5v7M339 305.5h7m-3.5-3.5v7M340 310.5h7m-3.5-3.5v7M340 306.5h7m-3.5-3.5v7M340 314.5h7m-3.5-3.5v7M340 312.5h7m-3.5-3.5v7M341 306.5h7m-3.5-3.5v7M341 306.5h7m-3.5-3.5v7M341 314.5h7m-3.5-3.5v7M341 312.5h7m-3.5-3.5v7M342 315.5h7m-3.5-3.5v7M342 306.5h7m-3.5-3.5v7M342 313.5h7m-3.5-3.5v7M343 314.5h7m-3.5-3.5v7M343 306.5h7m-3.5-3.5v7M343 314.5h7m-3.5-3.5v7M343 307.5h7m-3.5-3.5v7M344 312.5h7m-3.5-3.5v7M344 312.5h7m-3.5-3.5v7M344 306.5h7m-3.5-3.5v7M344 305.5h7m-3.5-3.5v7M345 314.5h7m-3.5-3.5v7M345 314.5h7m-3.5-3.5v7M345 313.5h7m-3.5-3.5v7M345 304.5h7m-3.5-3.5v7M346 305.5h7m-3.5-3.5v7M346 304.5h7m-3.5-3.5v7M346 314.5h7m-3.5-3.5v7M346 314.5h7m-3.5-3.5v7M347 311.5h7m-3.5-3.5v7M347 304.5h7m-3.5-3.5v7M347 314.5h7m-3.5-3.5v7M347 313.5h7m-3.5-3.5v7M348 314.5h7m-3.5-3.5v7M348 307.5h7m-3.5-3.5v7M348 306.5h7m-3.5-3.5v7M349 303.5h7m-3.5-3.5v7M349 313.5h7m-3.5-3.5v7M349 314.5h7m-3.5-3.5v7M349 304.5h7m-3.5-3.5v7M350 312.5h7m-3.5-3.5v7M350 304.5h7m-3.5-3.5v7M350 303.5h7m-3.5-3.5v7M350 314.5h7m-3.5-3.5v7M351 314.5h7m-3.5-3.5v7M351 304.5h7m-3.5-3.5v7M351 311.5h7m-3.5-3.5v7M351 309.5h7m-3.5-3.5v7M352 304.5h7m-3.5-3.5v7M352 311.5h7m-3.5-3.5v7M352 305.5h7m-3.5-3.5v7M352 306.5h7m-3.5-3.5v7M353 312.5h7m-3.5-3.5v7M353 304.5h7m-3.5-3.5v7M353 311.5h7m-3.5-3.5v7M353 313.5h7m-3.5-3.5v7M354 313.5h7m-3.5-3.5v7M354 311.5h7m-3.5-3.5v7M354 305.5h7m-3.5-3.5v7M354 313.5h7m-3.5-3.5v7M355 304.5h7m-3.5-3.5v7M355 302.5h7m-3.5-3.5v7M355 304.5h7m-3.5-3.5v7M356 303.5h7m-3.5-3.5v7M356 303.5h7m-3.5-3.5v7M356 312.5h7m-3.5-3.5v7M356 303.5h7m-3.5-3.5v7M357 303.5h7m-3.5-3.5v7M357 313.5h7m-3.5-3.5v7M357 304.5h7m-3.5-3.5v7M357 311.5h7m-3.5-3.5v7M358 304.5h7m-3.5-3.5v7M358 303.5h7m-3.5-3.5v7M358 303.5h7m-3.5-3.5v7M358 305.5h7m-3.5-3.5v7M359 311.5h7m-3.5-3.5v7M359 302.5h7m-3.5-3.5v7M359 310.5h7m-3.5-3.5v7M359 303.5h7m-3.5-3.5v7M360 311.5h7m-3.5-3.5v7M360 303.5h7m-3.5-3.5v7M360 304.5h7m-3.5-3.5v7M360 303.5h7m-3.5-3.5v7M361 311.5h7m-3.5-3.5v7M361 310.5h7m-3.5-3.5v7M361 301.5h7m-3.5-3.5v7M362 302.5h7m-3.5-3.5v7M362 312.5h7m-3.5-3.5v7M362 304.5h7m-3.5-3.5v7M362 312.5h7m-3.5-3.5v7M363 310.5h7m-3.5-3.5v7M363 312.5h7m-3.5-3.5v7M363 312.5h7m-3.5-3.5v7M363 311.5h7m-3.5-3.5v7M364 302.5h7m-3.5-3.5v7M364 302.5h7m-3.5-3.5v7M364 309.5h7m-3.5-3.5v7M364 311.5h7m-3.5-3.5v7M365 303.5h7m-3.5-3.5v7M365 308.5h7m-3.5-3.5v7M365 312.5h7m-3.5-3.5v7M365 312.5h7m-3.5-3.5v7M366 311.5h7m-3.5-3.5v7M366 303.5h7m-3.5-3.5v7M366 311.5h7m-3.5-3.5v7M366 303.5h7m-3.5-3.5v7M367 309.5h7m-3.5-3.5v7M367 309.5h7m-3.5-3.5v7M367 301.5h7m-3.5-3.5v7M368 302.5h7m-3.5-3.5v7M368 302.5h7m-3.5-3.5v7M368 303.5h7m-3.5-3.5v7M368 310.5h7m-3.5-3.5v7M369 312.5h7m-3.5-3.5v7M369 310.5h7m-3.5-3.5v7M369 302.5h7m-3.5-3.5v7M369 309.5h7m-3.5-3.5v7M370 303.5h7m-3.5-3.5v7M370 309.5h7m-3.5-3.5v7M370 301.5h7m-3.5-3.5v7M370 310.5h7m-3.5-3.5v7M371 301.5h7m-3.5-3.5v7M371 300.5h7m-3.5-3.5v7M371 301.5h7m-3.5-3.5v7M371 309.5h7m-3.5-3.5v7M372 310.5h7m-3.5-3.5v7M372 301.5h7m-3.5-3.5v7M372 311.5h7m-3.5-3.5v7M372 310.5h7m-3.5-3.5v7M373 310.5h7m-3.5-3.5v7M373 300.5h7m-3.5-3.5v7M373 302.5h7m-3.5-3.5v7M374 302.5h7m-3.5-3.5v7M374 311.5h7m-3.5-3.5v7M374 300.5h7m-3.5-3.5v7M374 310.5h7m-3.5-3.5v7M375 310.5h7m-3.5-3.5v7M375 302.5h7m-3.5-3.5v7M375 310.5h7m-3.5-3.5v7M375 309.5h7m-3.5-3.5v7M376 309.5h7m-3.5-3.5v7M376 300.5h7m-3.5-3.5v7M376 310.5h7m-3.5-3.5v7M376 302.5h7m-3.5-3.5v7M377 309.5h7m-3.5-3.5v7M377 309.5h7m-3.5-3.5v7M377 310.5h7m-3.5-3.5v7M377 299.5h7m-3.5-3.5v7M378 310.5h7m-3.5-3.5v7M378 301.5h7m-3.5-3.5v7M378 310.5h7m-3.5-3.5v7M378 299.5h7m-3.5-3.5v7M379 301.5h7m-3.5-3.5v7M379 307.5h7m-3.5-3.5v7M379 302.5h7m-3.5-3.5v7M379 299.5h7m-3.5-3.5v7M380 300.5h7m-3.5-3.5v7M380 299.5h7m-3.5-3.5v7M380 308.5h7m-3.5-3.5v7M381 309.5h7m-3.5-3.5v7M381 308.5h7m-3.5-3.5v7M381 301.5h7m-3.5-3.5v7M381 307.5h7m-3.5-3.5v7M382 309.5h7m-3.5-3.5v7M382 299.5h7m-3.5-3.5v7M382 299.5h7m-3.5-3.5v7M382 299.5h7m-3.5-3.5v7M383 300.5h7m-3.5-3.5v7M383 309.5h7m-3.5-3.5v7M383 308.5h7m-3.5-3.5v7M383 307.5h7m-3.5-3.5v7M384 299.5h7m-3.5-3.5v7M384 307.5h7m-3.5-3.5v7M384 309.5h7m-3.5-3.5v7M384 298.5h7m-3.5-3.5v7M385 309.5h7m-3.5-3.5v7M385 299.5h7m-3.5-3.5v7M385 307.5h7m-3.5-3.5v7M385 302.5h7m-3.5-3.5v7M386 309.5h7m-3.5-3.5v7M386 298.5h7m-3.5-3.5v7M386 300.5h7m-3.5-3.5v7M387 308.5h7m-3.5-3.5v7M387 308.5h7m-3.5-3.5v7M387 299.5h7m-3.5-3.5v7M387 309.5h7m-3.5-3.5v7M388 308.5h7m-3.5-3.5v7M388 306.5h7m-3.5-3.5v7M388 300.5h7m-3.5-3.5v7M388 306.5h7m-3.5-3.5v7M389 307.5h7m-3.5-3.5v7M389 300.5h7m-3.5-3.5v7M389 308.5h7m-3.5-3.5v7M389 299.5h7m-3.5-3.5v7M390 300.5h7m-3.5-3.5v7M390 308.5h7m-3.5-3.5v7M390 308.5h7m-3.5-3.5v7M390 298.5h7m-3.5-3.5v7M391 300.5h7m-3.5-3.5v7M391 300.5h7m-3.5-3.5v7M391 308.5h7m-3.5-3.5v7M391 298.5h7m-3.5-3.5v7M392 300.5h7m-3.5-3.5v7M392 299.5h7m-3.5-3.5v7M392 298.5h7m-3.5-3.5v7M393 306.5h7m-3.5-3.5v7M393 299.5h7m-3.5-3.5v7M393 307.5h7m-3.5-3.5v7M393 300.5h7m-3.5-3.5v7M394 305.5h7m-3.5-3.5v7M394 298.5h7m-3.5-3.5v7M394 299.5h7m-3.5-3.5v7M394 302.5h7m-3.5-3.5v7M395 298.5h7m-3.5-3.5v7M395 306.5h7m-3.5-3.5v7M395 305.5h7m-3.5-3.5v7M395 298.5h7m-3.5-3.5v7M396 305.5h7m-3.5-3.5v7M396 306.5h7m-3.5-3.5v7M396 306.5h7m-3.5-3.5v7M396 305.5h7m-3.5-3.5v7M397 307.5h7m-3.5-3.5v7M397 307.5h7m-3.5-3.5v7M397 297.5h7m-3.5-3.5v7M397 298.5h7m-3.5-3.5v7M398 307.5h7m-3.5-3.5v7M398 296.5h7m-3.5-3.5v7M398 297.5h7m-3.5-3.5v7M399 305.5h7m-3.5-3.5v7M399 299.5h7m-3.5-3.5v7M399 307.5h7m-3.5-3.5v7M399 296.5h7m-3.5-3.5v7M400 307.5h7m-3.5-3.5v7M400 298.5h7m-3.5-3.5v7M400 298.5h7m-3.5-3.5v7M400 305.5h7m-3.5-3.5v7M401 306.5h7m-3.5-3.5v7M401 297.5h7m-3.5-3.5v7M401 298.5h7m-3.5-3.5v7M401 304.5h7m-3.5-3.5v7M402 298.5h7m-3.5-3.5v7M402 297.5h7m-3.5-3.5v7M402 300.5h7m-3.5-3.5v7M402 296.5h7m-3.5-3.5v7M403 305.5h7m-3.5-3.5v7M403 297.5h7m-3.5-3.5v7M403 297.5h7m-3.5-3.5v7M403 297.5h7m-3.5-3.5v7M404 305.5h7m-3.5-3.5v7M404 296.5h7m-3.5-3.5v7M404 298.5h7m-3.5-3.5v7M405 296.5h7m-3.5-3.5v7M405 304.5h7m-3.5-3.5v7M405 298.5h7m-3.5-3.5v7M405 306.5h7m-3.5-3.5v7M406 304.5h7m-3.5-3.5v7M406 304.5h7m-3.5-3.5v7M406 296.5h7m-3.5-3.5v7M406 296.5h7m-3.5-3.5v7M407 297.5h7m-3.5-3.5v7M407 305.5h7m-3.5-3.5v7M407 297.5h7m-3.5-3.5v7M407 304.5h7m-3.5-3.5v7M408 296.5h7m-3.5-3.5v7M408 305.5h7m-3.5-3.5v7M408 304.5h7m-3.5-3.5v7M408 305.5h7m-3.5-3.5v7M409 303.5h7m-3.5-3.5v7M409 297.5h7m-3.5-3.5v7M409 295.5h7m-3.5-3.5v7M409 297.5h7m-3.5-3.5v7M410 297.5h7m-3.5-3.5v7M410 297.5h7m-3.5-3.5v7M410 305.5h7m-3.5-3.5v7M410 305.5h7m-3.5-3.5v7M411 296.5h7m-3.5-3.5v7M411 303.5h7m-3.5-3.5v7M411 304.5h7m-3.5-3.5v7M412 296.5h7m-3.5-3.5v7M412 295.5h7m-3.5-3.5v7M412 297.5h7m-3.5-3.5v7M412 296.5h7m-3.5-3.5v7M413 297.5h7m-3.5-3.5v7M413 296.5h7m-3.5-3.5v7M413 304.5h7m-3.5-3.5v7M413 295.5h7m-3.5-3.5v7M414 296.5h7m-3.5-3.5v7M414 302.5h7m-3.5-3.5v7M414 297.5h7m-3.5-3.5v7M414 304.5h7m-3.5-3.5v7M415 295.5h7m-3.5-3.5v7M415 300.5h7m-3.5-3.5v7M415 301.5h7m-3.5-3.5v7M415 296.5h7m-3.5-3.5v7M416 303.5h7m-3.5-3.5v7M416 303.5h7m-3.5-3.5v7M416 303.5h7m-3.5-3.5v7M416 294.5h7m-3.5-3.5v7M417 295.5h7m-3.5-3.5v7M417 302.5h7m-3.5-3.5v7M417 299.5h7m-3.5-3.5v7M418 303.5h7m-3.5-3.5v7M418 294.5h7m-3.5-3.5v7M418 294.5h7m-3.5-3.5v7M418 296.5h7m-3.5-3.5v7M419 304.5h7m-3.5-3.5v7M419 301.5h7m-3.5-3.5v7M419 295.5h7m-3.5-3.5v7M419 301.5h7m-3.5-3.5v7M420 301.5h7m-3.5-3.5v7M420 294.5h7m-3.5-3.5v7M420 293.5h7m-3.5-3.5v7M420 295.5h7m-3.5-3.5v7M421 296.5h7m-3.5-3.5v7M421 295.5h7m-3.5-3.5v7M421 300.5h7m-3.5-3.5v7M421 295.5h7m-3.5-3.5v7M422 301.5h7m-3.5-3.5v7M422 293.5h7m-3.5-3.5v7M422 294.5h7m-3.5-3.5v7M422 295.5h7m-3.5-3.5v7M423 300.5h7m-3.5-3.5v7M423 294.5h7m-3.5-3.5v7M423 295.5h7m-3.5-3.5v7M424 293.5h7m-3.5-3.5v7M424 294.5h7m-3.5-3.5v7M424 300.5h7m-3.5-3.5v7M424 295.5h7m-3.5-3.5v7M425 302.5h7m-3.5-3.5v7M425 295.5h7m-3.5-3.5v7M425 300.5h7m-3.5-3.5v7M425 300.5h7m-3.5-3.5v7M426 293.5h7m-3.5-3.5v7M426 302.5h7m-3.5-3.5v7M426 301.5h7m-3.5-3.5v7M426 293.5h7m-3.5-3.5v7M427 300.5h7m-3.5-3.5v7M427 300.5h7m-3.5-3.5v7M427 300.5h7m-3.5-3.5v7M427 294.5h7m-3.5-3.5v7M428 300.5h7m-3.5-3.5v7M428 301.5h7m-3.5-3.5v7M428 294.5h7m-3.5-3.5v7M428 294.5h7m-3.5-3.5v7M429 302.5h7m-3.5-3.5v7M429 300.5h7m-3.5-3.5v7M429 300.5h7m-3.5-3.5v7M430 293.5h7m-3.5-3.5v7M430 299.5h7m-3.5-3.5v7M430 291.5h7m-3.5-3.5v7M430 294.5h7m-3.5-3.5v7M431 301.5h7m-3.5-3.5v7M431 294.5h7m-3.5-3.5v7M431 299.5h7m-3.5-3.5v7M431 302.5h7m-3.5-3.5v7M432 301.5h7m-3.5-3.5v7M432 291.5h7m-3.5-3.5v7M432 294.5h7m-3.5-3.5v7M432 300.5h7m-3.5-3.5v7M433 292.5h7m-3.5-3.5v7M433 293.5h7m-3.5-3.5v7M433 300.5h7m-3.5-3.5v7M433 299.5h7m-3.5-3.5v7M434 301.5h7m-3.5-3.5v7M434 299.5h7m-3.5-3.5v7M434 300.5h7m-3.5-3.5v7M434 292.5h7m-3.5-3.5v7M435 301.5h7m-3.5-3.5v7M435 291.5h7m-3.5-3.5v7M435 301.5h7m-3.5-3.5v7M436 293.5h7m-3.5-3.5v7M436 298.5h7m-3.5-3.5v7M436 292.5h7m-3.5-3.5v7M436 299.5h7m-3.5-3.5v7M437 293.5h7m-3.5-3.5v7M437 293.5h7m-3.5-3.5v7M437 290.5h7m-3.5-3.5v7M437 291.5h7m-3.5-3.5v7M438 301.5h7m-3.5-3.5v7M438 291.5h7m-3.5-3.5v7M438 299.5h7m-3.5-3.5v7M438 301.5h7m-3.5-3.5v7M439 292.5h7m-3.5-3.5v7M439 292.5h7m-3.5-3.5v7M439 299.5h7m-3.5-3.5v7M439 292.5h7m-3.5-3.5v7M440 290.5h7m-3.5-3.5v7M440 292.5h7m-3.5-3.5v7M440 290.5h7m-3.5-3.5v7M440 300.5h7m-3.5-3.5v7M441 292.5h7m-3.5-3.5v7M441 291.5h7m-3.5-3.5v7M441 290.5h7m-3.5-3.5v7M441 292.5h7m-3.5-3.5v7M442 298.5h7m-3.5-3.5v7M442 298.5h7m-3.5-3.5v7M442 289.5h7m-3.5-3.5v7M443 291.5h7m-3.5-3.5v7M443 290.5h7m-3.5-3.5v7M443 299.5h7m-3.5-3.5v7M443 300.5h7m-3.5-3.5v7M444 291.5h7m-3.5-3.5v7M444 290.5h7m-3.5-3.5v7M444 297.5h7m-3.5-3.5v7M444 297.5h7m-3.5-3.5v7M445 291.5h7m-3.5-3.5v7M445 289.5h7m-3.5-3.5v7M445 298.5h7m-3.5-3.5v7M445 299.5h7m-3.5-3.5v7M446 289.5h7m-3.5-3.5v7M446 299.5h7m-3.5-3.5v7M446 291.5h7m-3.5-3.5v7M446 297.5h7m-3.5-3.5v7M447 289.5h7m-3.5-3.5v7M447 290.5h7m-3.5-3.5v7M447 297.5h7m-3.5-3.5v7M447 299.5h7m-3.5-3.5v7M448 297.5h7m-3.5-3.5v7M448 298.5h7m-3.5-3.5v7M448 289.5h7m-3.5-3.5v7M449 299.5h7m-3.5-3.5v7M449 298.5h7m-3.5-3.5v7M449 299.5h7m-3.5-3.5v7M449 299.5h7m-3.5-3.5v7M450 297.5h7m-3.5-3.5v7M450 298.5h7m-3.5-3.5v7M450 288.5h7m-3.5-3.5v7M450 288.5h7m-3.5-3.5v7M451 293.5h7m-3.5-3.5v7M451 298.5h7m-3.5-3.5v7M451 297.5h7m-3.5-3.5v7M451 297.5h7m-3.5-3.5v7M452 297.5h7m-3.5-3.5v7M452 289.5h7m-3.5-3.5v7M452 298.5h7m-3.5-3.5v7M452 291.5h7m-3.5-3.5v7M453 299.5h7m-3.5-3.5v7M453 296.5h7m-3.5-3.5v7M453 296.5h7m-3.5-3.5v7M453 289.5h7m-3.5-3.5v7M454 297.5h7m-3.5-3.5v7M454 298.5h7m-3.5-3.5v7M454 299.5h7m-3.5-3.5v7M455 295.5h7m-3.5-3.5v7M455 287.5h7m-3.5-3.5v7M455 289.5h7m-3.5-3.5v7M455 297.5h7m-3.5-3.5v7M456 298.5h7m-3.5-3.5v7M456 290.5h7m-3.5-3.5v7M456 287.5h7m-3.5-3.5v7M456 290.5h7m-3.5-3.5v7M457 295.5h7m-3.5-3.5v7M457 295.5h7m-3.5-3.5v7M457 290.5h7m-3.5-3.5v7M457 287.5h7m-3.5-3.5v7M458 296.5h7m-3.5-3.5v7M458 288.5h7m-3.5-3.5v7M458 287.5h7m-3.5-3.5v7M458 298.5h7m-3.5-3.5v7M459 298.5h7m-3.5-3.5v7M459 296.5h7m-3.5-3.5v7M459 296.5h7m-3.5-3.5v7M459 286.5h7m-3.5-3.5v7M460 296.5h7m-3.5-3.5v7M460 287.5h7m-3.5-3.5v7M460 297.5h7m-3.5-3.5v7M461 296.5h7m-3.5-3.5v7M461 286.5h7m-3.5-3.5v7M461 296.5h7m-3.5-3.5v7M461 297.5h7m-3.5-3.5v7M462 289.5h7m-3.5-3.5v7M462 287.5h7m-3.5-3.5v7M462 286.5h7m-3.5-3.5v7M462 289.5h7m-3.5-3.5v7M463 289.5h7m-3.5-3.5v7M463 289.5h7m-3.5-3.5v7M463 287.5h7m-3.5-3.5v7M463 296.5h7m-3.5-3.5v7M464 289.5h7m-3.5-3.5v7M464 294.5h7m-3.5-3.5v7M464 286.5h7m-3.5-3.5v7M464 294.5h7m-3.5-3.5v7M465 288.5h7m-3.5-3.5v7M465 288.5h7m-3.5-3.5v7M465 288.5h7m-3.5-3.5v7M465 291.5h7m-3.5-3.5v7M466 287.5h7m-3.5-3.5v7M466 288.5h7m-3.5-3.5v7M466 296.5h7m-3.5-3.5v7M467 296.5h7m-3.5-3.5v7M467 296.5h7m-3.5-3.5v7M467 288.5h7m-3.5-3.5v7M467 294.5h7m-3.5-3.5v7M468 293.5h7m-3.5-3.5v7M468 293.5h7m-3.5-3.5v7M468 287.5h7m-3.5-3.5v7M468 286.5h7m-3.5-3.5v7M469 293.5h7m-3.5-3.5v7M469 294.5h7m-3.5-3.5v7M469 288.5h7m-3.5-3.5v7M469 287.5h7m-3.5-3.5v7M470 295.5h7m-3.5-3.5v7M470 295.5h7m-3.5-3.5v7M470 288.5h7m-3.5-3.5v7M470 293.5h7m-3.5-3.5v7M471 286.5h7m-3.5-3.5v7M471 293.5h7m-3.5-3.5v7M471 293.5h7m-3.5-3.5v7M471 288.5h7m-3.5-3.5v7M472 286.5h7m-3.5-3.5v7M472 285.5h7m-3.5-3.5v7M472 285.5h7m-3.5-3.5v7M472 293.5h7m-3.5-3.5v7M473 293.5h7m-3.5-3.5v7M473 287.5h7m-3.5-3.5v7M473 287.5h7m-3.5-3.5v7M474 293.5h7m-3.5-3.5v7M474 284.5h7m-3.5-3.5v7M474 285.5h7m-3.5-3.5v7M474 294.5h7m-3.5-3.5v7M475 294.5h7m-3.5-3.5v7M475 287.5h7m-3.5-3.5v7M475 292.5h7m-3.5-3.5v7M475 284.5h7m-3.5-3.5v7M476 284.5h7m-3.5-3.5v7M476 292.5h7m-3.5-3.5v7M476 286.5h7m-3.5-3.5v7M476 292.5h7m-3.5-3.5v7M477 294.5h7m-3.5-3.5v7M477 287.5h7m-3.5-3.5v7M477 293.5h7m-3.5-3.5v7M477 292.5h7m-3.5-3.5v7M478 286.5h7m-3.5-3.5v7M478 285.5h7m-3.5-3.5v7M478 284.5h7m-3.5-3.5v7M478 291.5h7m-3.5-3.5v7M479 294.5h7m-3.5-3.5v7M479 292.5h7m-3.5-3.5v7M479 285.5h7m-3.5-3.5v7M480 285.5h7m-3.5-3.5v7M480 291.5h7m-3.5-3.5v7M480 292.5h7m-3.5-3.5v7M480 292.5h7m-3.5-3.5v7M481 286.5h7m-3.5-3.5v7M481 294.5h7m-3.5-3.5v7M481 284.5h7m-3.5-3.5v7M481 284.5h7m-3.5-3.5v7M482 294.5h7m-3.5-3.5v7M482 292.5h7m-3.5-3.5v7M482 291.5h7m-3.5-3.5v7M482 284.5h7m-3.5-3.5v7M483 291.5h7m-3.5-3.5v7M483 292.5h7m-3.5-3.5v7M483 291.5h7m-3.5-3.5v7M483 292.5h7m-3.5-3.5v7M484 291.5h7m-3.5-3.5v7M484 292.5h7m-3.5-3.5v7M484 294.5h7m-3.5-3.5v7M484 293.5h7m-3.5-3.5v7M485 284.5h7m-3.5-3.5v7M485 284.5h7m-3.5-3.5v7M485 285.5h7m-3.5-3.5v7M486 293.5h7m-3.5-3.5v7M486 284.5h7m-3.5-3.5v7M486 292.5h7m-3.5-3.5v7M486 293.5h7m-3.5-3.5v7M487 293.5h7m-3.5-3.5v7M487 291.5h7m-3.5-3.5v7M487 284.5h7m-3.5-3.5v7M487 291.5h7m-3.5-3.5v7M488 285.5h7m-3.5-3.5v7M488 285.5h7m-3.5-3.5v7M488 291.5h7m-3.5-3.5v7M488 290.5h7m-3.5-3.5v7M489 283.5h7m-3.5-3.5v7M489 284.5h7m-3.5-3.5v7M489 285.5h7m-3.5-3.5v7M489 284.5h7m-3.5-3.5v7M490 292.5h7m-3.5-3.5v7M490 282.5h7m-3.5-3.5v7M490 292.5h7m-3.5-3.5v7M490 284.5h7m-3.5-3.5v7M491 293.5h7m-3.5-3.5v7M491 284.5h7m-3.5-3.5v7M491 291.5h7m-3.5-3.5v7M492 291.5h7m-3.5-3.5v7M492 284.5h7m-3.5-3.5v7M492 290.5h7m-3.5-3.5v7M492 289.5h7m-3.5-3.5v7M493 290.5h7m-3.5-3.5v7M493 282.5h7m-3.5-3.5v7M493 292.5h7m-3.5-3.5v7M493 291.5h7m-3.5-3.5v7M494 292.5h7m-3.5-3.5v7M494 292.5h7m-3.5-3.5v7M494 291.5h7m-3.5-3.5v7M494 283.5h7m-3.5-3.5v7M495 283.5h7m-3.5-3.5v7M495 290.5h7m-3.5-3.5v7M495 281.5h7m-3.5-3.5v7M495 291.5h7m-3.5-3.5v7M496 282.5h7m-3.5-3.5v7M496 284.5h7m-3.5-3.5v7M496 290.5h7m-3.5-3.5v7M496 282.5h7m-3.5-3.5v7M497 282.5h7m-3.5-3.5v7M497 284.5h7m-3.5-3.5v7M497 290.5h7m-3.5-3.5v7M498 290.5h7m-3.5-3.5v7M498 281.5h7m-3.5-3.5v7M498 282.5h7m-3.5-3.5v7M498 292.5h7m-3.5-3.5v7M499 283.5h7m-3.5-3.5v7M499 281.5h7m-3.5-3.5v7M499 286.5h7m-3.5-3.5v7M499 284.5h7m-3.5-3.5v7M500 282.5h7m-3.5-3.5v7M500 283.5h7m-3.5-3.5v7M500 281.5h7m-3.5-3.5v7M500 290.5h7m-3.5-3.5v7M501 288.5h7m-3.5-3.5v7M501 283.5h7m-3.5-3.5v7M501 290.5h7m-3.5-3.5v7M501 283.5h7m-3.5-3.5v7M502 282.5h7m-3.5-3.5v7M502 282.5h7m-3.5-3.5v7M502 283.5h7m-3.5-3.5v7M502 281.5h7m-3.5-3.5v7M503 291.5h7m-3.5-3.5v7M503 289.5h7m-3.5-3.5v7M503 281.5h7m-3.5-3.5v7M503 288.5h7m-3.5-3.5v7M504 290.5h7m-3.5-3.5v7M504 288.5h7m-3.5-3.5v7M504 289.5h7m-3.5-3.5v7M505 289.5h7m-3.5-3.5v7M505 281.5h7m-3.5-3.5v7M505 288.5h7m-3.5-3.5v7M505 288.5h7m-3.5-3.5v7M506 283.5h7m-3.5-3.5v7M506 289.5h7m-3.5-3.5v7M506 281.5h7m-3.5-3.5v7M506 281.5h7m-3.5-3.5v7M507 289.5h7m-3.5-3.5v7M507 289.5h7m-3.5-3.5v7M507 289.5h7m-3.5-3.5v7M507 281.5h7m-3.5-3.5v7M508 280.5h7m-3.5-3.5v7M508 282.5h7m-3.5-3.5v7M508 280.5h7m-3.5-3.5v7M508 280.5h7m-3.5-3.5v7M509 290.5h7m-3.5-3.5v7M509 288.5h7m-3.5-3.5v7M509 288.5h7m-3.5-3.5v7M509 289.5h7m-3.5-3.5v7M510 281.5h7m-3.5-3.5v7M510 289.5h7m-3.5-3.5v7M510 288.5h7m-3.5-3.5v7M511 290.5h7m-3.5-3.5v7M511 288.5h7m-3.5-3.5v7M511 289.5h7m-3.5-3.5v7M511 281.5h7m-3.5-3.5v7M512 279.5h7m-3.5-3.5v7M512 288.5h7m-3.5-3.5v7M512 282.5h7m-3.5-3.5v7M512 282.5h7m-3.5-3.5v7M513 280.5h7m-3.5-3.5v7M513 282.5h7m-3.5-3.5v7M513 290.5h7m-3.5-3.5v7M513 282.5h7m-3.5-3.5v7M514 279.5h7m-3.5-3.5v7M514 289.5h7m-3.5-3.5v7M514 287.5h7m-3.5-3.5v7M514 281.5h7m-3.5-3.5v7M515 290.5h7m-3.5-3.5v7M515 287.5h7m-3.5-3.5v7M515 282.5h7m-3.5-3.5v7M515 287.5h7m-3.5-3.5v7M516 289.5h7m-3.5-3.5v7M516 281.5h7m-3.5-3.5v7M516 283.5h7m-3.5-3.5v7M517 280.5h7m-3.5-3.5v7M517 280.5h7m-3.5-3.5v7M517 281.5h7m-3.5-3.5v7M517 279.5h7m-3.5-3.5v7M518 289.5h7m-3.5-3.5v7M518 287.5h7m-3.5-3.5v7M518 278.5h7m-3.5-3.5v7M518 288.5h7m-3.5-3.5v7M519 280.5h7m-3.5-3.5v7M519 281.5h7m-3.5-3.5v7M519 287.5h7m-3.5-3.5v7M519 281.5h7m-3.5-3.5v7M520 281.5h7m-3.5-3.5v7M520 288.5h7m-3.5-3.5v7M520 279.5h7m-3.5-3.5v7M520 287.5h7m-3.5-3.5v7M521 289.5h7m-3.5-3.5v7M521 288.5h7m-3.5-3.5v7M521 280.5h7m-3.5-3.5v7M521 278.5h7m-3.5-3.5v7M522 287.5h7m-3.5-3.5v7M522 279.5h7m-3.5-3.5v7M522 288.5h7m-3.5-3.5v7M523 287.5h7m-3.5-3.5v7M523 288.5h7m-3.5-3.5v7M523 289.5h7m-3.5-3.5v7M523 279.5h7m-3.5-3.5v7M524 280.5h7m-3.5-3.5v7M524 279.5h7m-3.5-3.5v7M524 286.5h7m-3.5-3.5v7M524 288.5h7m-3.5-3.5v7M525 279.5h7m-3.5-3.5v7M525 288.5h7m-3.5-3.5v7M525 288.5h7m-3.5-3.5v7M525 283.5h7m-3.5-3.5v7M526 280.5h7m-3.5-3.5v7M526 283.5h7m-3.5-3.5v7M526 280.5h7m-3.5-3.5v7M526 278.5h7m-3.5-3.5v7M527 278.5h7m-3.5-3.5v7M527 279.5h7m-3.5-3.5v7M527 279.5h7m-3.5-3.5v7M527 288.5h7m-3.5-3.5v7M528 279.5h7m-3.5-3.5v7M528 279.5h7m-3.5-3.5v7M528 279.5h7m-3.5-3.5v7M529 280.5h7m-3.5-3.5v7M529 278.5h7m-3.5-3.5v7M529 280.5h7m-3.5-3.5v7M529 287.5h7m-3.5-3.5v7M530 286.5h7m-3.5-3.5v7M530 287.5h7m-3.5-3.5v7M530 287.5h7m-3.5-3.5v7M530 278.5h7m-3.5-3.5v7M531 288.5h7m-3.5-3.5v7M531 287.5h7m-3.5-3.5v7M531 287.5h7m-3.5-3.5v7M531 285.5h7m-3.5-3.5v7M532 287.5h7m-3.5-3.5v7M532 279.5h7m-3.5-3.5v7M532 279.5h7m-3.5-3.5v7M532 279.5h7m-3.5-3.5v7M533 278.5h7m-3.5-3.5v7M533 288.5h7m-3.5-3.5v7M533 286.5h7m-3.5-3.5v7M533 277.5h7m-3.5-3.5v7M534 279.5h7m-3.5-3.5v7M534 279.5h7m-3.5-3.5v7M534 285.5h7m-3.5-3.5v7M534 278.5h7m-3.5-3.5v7M535 286.5h7m-3.5-3.5v7M535 279.5h7m-3.5-3.5v7M535 279.5h7m-3.5-3.5v7M536 277.5h7m-3.5-3.5v7M536 287.5h7m-3.5-3.5v7M536 287.5h7m-3.5-3.5v7M536 276.5h7m-3.5-3.5v7M537 277.5h7m-3.5-3.5v7M537 284.5h7m-3.5-3.5v7M537 279.5h7m-3.5-3.5v7M537 278.5h7m-3.5-3.5v7M538 286.5h7m-3.5-3.5v7M538 287.5h7m-3.5-3.5v7M538 284.5h7m-3.5-3.5v7M538 278.5h7m-3.5-3.5v7M539 278.5h7m-3.5-3.5v7M539 285.5h7m-3.5-3.5v7M539 276.5h7m-3.5-3.5v7M539 286.5h7m-3.5-3.5v7M540 276.5h7m-3.5-3.5v7M540 285.5h7m-3.5-3.5v7M540 276.5h7m-3.5-3.5v7M540 277.5h7m-3.5-3.5v7M541 277.5h7m-3.5-3.5v7M541 284.5h7m-3.5-3.5v7M541 285.5h7m-3.5-3.5v7M542 285.5h7m-3.5-3.5v7M542 284.5h7m-3.5-3.5v7M542 286.5h7m-3.5-3.5v7M542 284.5h7m-3.5-3.5v7M543 276.5h7m-3.5-3.5v7M543 275.5h7m-3.5-3.5v7M543 285.5h7m-3.5-3.5v7M543 285.5h7m-3.5-3.5v7M544 275.5h7m-3.5-3.5v7M544 285.5h7m-3.5-3.5v7M544 275.5h7m-3.5-3.5v7M544 283.5h7m-3.5-3.5v7M545 278.5h7m-3.5-3.5v7M545 285.5h7m-3.5-3.5v7M545 285.5h7m-3.5-3.5v7M545 283.5h7m-3.5-3.5v7M546 277.5h7m-3.5-3.5v7M546 276.5h7m-3.5-3.5v7M546 276.5h7m-3.5-3.5v7M546 285.5h7m-3.5-3.5v7M547 283.5h7m-3.5-3.5v7M547 285.5h7m-3.5-3.5v7M547 277.5h7m-3.5-3.5v7M548 282.5h7m-3.5-3.5v7M548 283.5h7m-3.5-3.5v7M548 276.5h7m-3.5-3.5v7M548 275.5h7m-3.5-3.5v7M549 285.5h7m-3.5-3.5v7M549 282.5h7m-3.5-3.5v7M549 276.5h7m-3.5-3.5v7M549 276.5h7m-3.5-3.5v7M550 284.5h7m-3.5-3.5v7M550 274.5h7m-3.5-3.5v7M550 277.5h7m-3.5-3.5v7M550 276.5h7m-3.5-3.5v7M551 277.5h7m-3.5-3.5v7M551 275.5h7m-3.5-3.5v7M551 275.5h7m-3.5-3.5v7M551 283.5h7m-3.5-3.5v7M552 282.5h7m-3.5-3.5v7M552 274.5h7m-3.5-3.5v7M552 283.5h7m-3.5-3.5v7M552 275.5h7m-3.5-3.5v7M553 274.5h7m-3.5-3.5v7M553 274.5h7m-3.5-3.5v7M553 284.5h7m-3.5-3.5v7M554 284.5h7m-3.5-3.5v7M554 282.5h7m-3.5-3.5v7M554 284.5h7m-3.5-3.5v7M554 282.5h7m-3.5-3.5v7M555 275.5h7m-3.5-3.5v7M555 273.5h7m-3.5-3.5v7M555 281.5h7m-3.5-3.5v7M555 275.5h7m-3.5-3.5v7M556 273.5h7m-3.5-3.5v7M556 284.5h7m-3.5-3.5v7M556 274.5h7m-3.5-3.5v7M556 279.5h7m-3.5-3.5v7M557 282.5h7m-3.5-3.5v7M557 271.5h7m-3.5-3.5v7M88 109.5h7m-3.5-3.5v7M122 329.5h7m-3.5-3.5v7M130 328.5h7m-3.5-3.5v7M167 314.5h7m-3.5-3.5v7M223 306.5h7m-3.5-3.5v7M233 307.5h7m-3.5-3.5v7M262 302.5h7m-3.5-3.5v7M294 297.5h7m-3.5-3.5v7M301 298.5h7m-3.5-3.5v7" stroke="#9400d3" stroke-width="1" fill="none" shape-rendering="crispEdges"/>
<path d="M143.5 431v-4.5M143.5 45.5v4.5M195.5 431v-4.5M195.5 45.5v4.5M247.5 431v-4.5M247.5 45.5v4.5M299.5 431v-4.5M299.5 45.5v4.5M352.5 431v-4.5M352.5 45.5v4.5M404.5 431v-4.5M404.5 45.5v4.5M456.5 431v-4.5M456.5 45.5v4.5M508.5 431v-4.5M508.5 45.5v4.5M560.5 431v-4.5M560.5 45.5v4.5M91.5 380.5h4.5M612.5 380.5h-4.5M91.5 330.5h4.5M612.5 330.5h-4.5M91.5 279.5h4.5M612.5 279.5h-4.5M91.5 229.5h4.5M612.5 229.5h-4.5M91.5 178.5h4.5M612.5 178.5h-4.5M91.5 128.5h4.5M612.5 128.5h-4.5M91.5 77.5h4.5M612.5 77.5h-4.5" stroke="#000" stroke-width="1" fill="none" shape-rendering="crispEdges"/>
<path d="M91.5 45.5H612.5V431.5H91.5Z" stroke="#000" stroke-width="1" fill="none" shape-rendering="crispEdges"/>
</svg>
</body></html>
